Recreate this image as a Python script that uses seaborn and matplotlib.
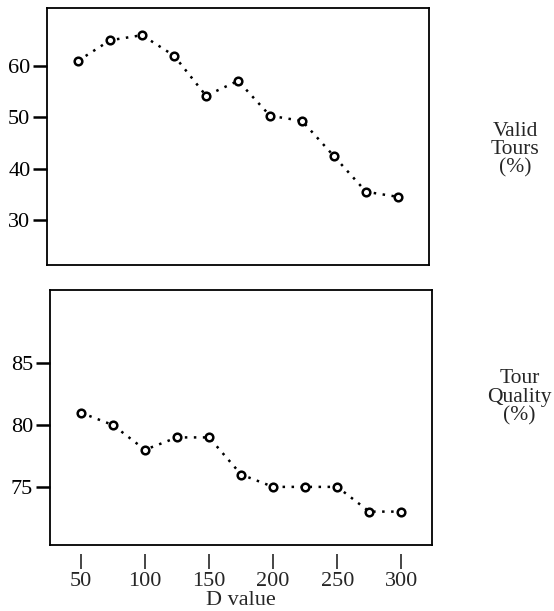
import matplotlib
matplotlib.use("Agg")
import matplotlib.pyplot as plt
import seaborn as sns
import pandas as pd

d_values = [50, 75, 100, 125, 150, 175, 200, 225, 250, 275, 300]
valid_tours = [61, 65, 66, 62, 54.2, 57.1, 50.3, 49.3, 42.4, 35.5, 34.5]
tour_quality = [81, 80, 78, 79, 79, 76, 75, 75, 75, 73, 73]
x_ticks = [50, 100, 150, 200, 250, 300]
top_yticks = [30, 40, 50, 60]
bottom_yticks = [75, 80, 85]

sns.set_style("white")
plt.rcParams['font.family'] = ['Liberation Serif', 'DejaVu Serif']

df = pd.DataFrame({"D": d_values, "valid": valid_tours, "quality": tour_quality})

fig = plt.figure(figsize=(5.54, 6.11), dpi=100)
ax1 = fig.add_axes([0.085, 0.566, 0.689, 0.421])
ax2 = fig.add_axes([0.090, 0.108, 0.690, 0.417])

line_kw = dict(color="black", linestyle=(0, (1, 2.6)), linewidth=1.8,
               marker="o", markersize=5.5, markerfacecolor="white",
               markeredgecolor="black", markeredgewidth=1.8)

sns.lineplot(data=df, x="D", y="valid", ax=ax1, **line_kw)
sns.lineplot(data=df, x="D", y="quality", ax=ax2, **line_kw)

for ax, yt, ylim in [(ax1, top_yticks, (21.2, 71.3)), (ax2, bottom_yticks, (70.3, 90.9))]:
    ax.set_xlim(25.8, 324)
    ax.set_ylim(*ylim)
    ax.set_yticks(yt)
    ax.set_xlabel("")
    ax.set_ylabel("")
    for s in ax.spines.values():
        s.set_visible(True)
        s.set_color("black")
        s.set_linewidth(1.3)
    ax.tick_params(axis="y", direction="out", length=10, width=1.8, left=True,
                   labelsize=16, pad=2, colors="black")
    ax.set_xticks([])

sec = ax2.secondary_xaxis(-0.035)
sec.set_xticks(x_ticks)
sec.spines["bottom"].set_visible(False)
sec.tick_params(axis="x", direction="out", length=11, width=1.2, labelsize=16, pad=2)
sec.set_xlabel("D value", fontsize=16, labelpad=0)

fig.text(0.93, 0.755, "Valid\nTours\n(%)", ha="center", va="center", fontsize=15.5, linespacing=0.95)
fig.text(0.996, 0.35, "Tour\nQuality\n(%)", ha="right", va="center", multialignment="center",
         fontsize=15.5, linespacing=0.95)

fig.savefig("out.png", dpi=100)
